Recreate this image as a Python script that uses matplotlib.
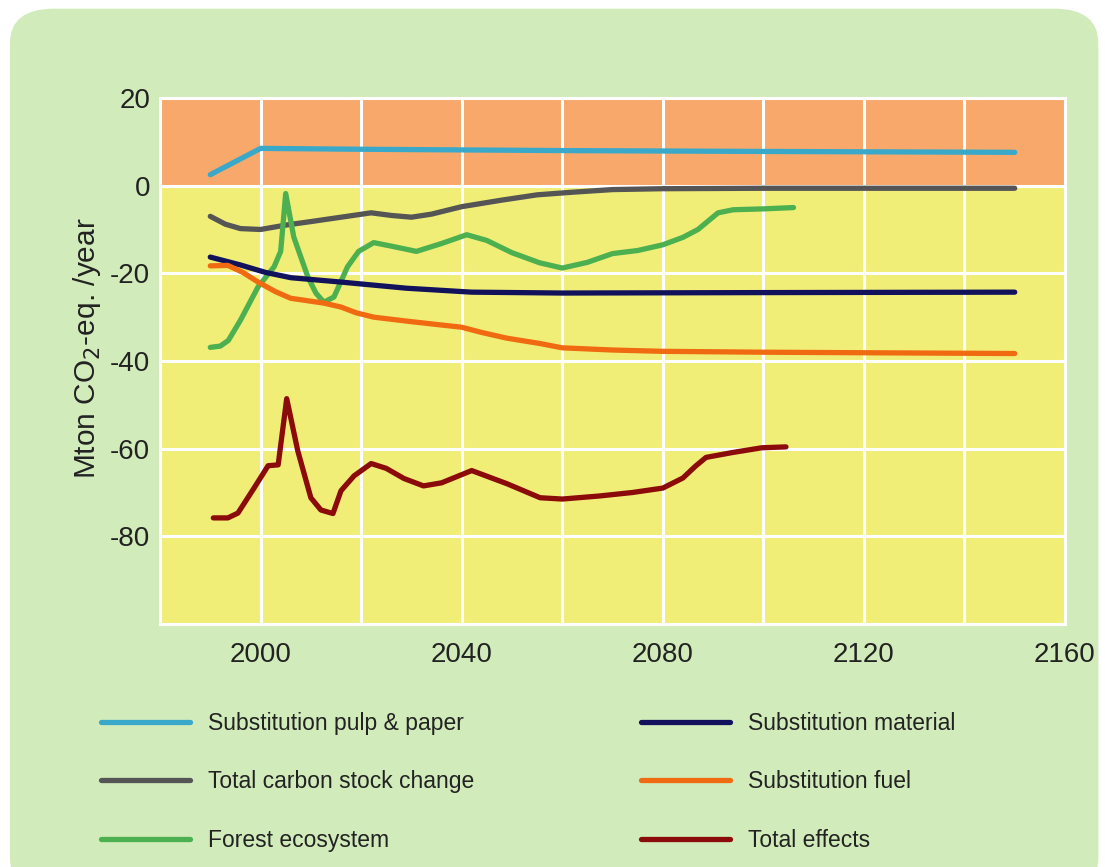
import matplotlib.pyplot as plt
from matplotlib.patches import FancyBboxPatch

plt.rcParams['font.family'] = ['Liberation Sans', 'DejaVu Sans']
plt.rcParams['axes.unicode_minus'] = False

# Daten
years_pulp = [1990, 2000, 2020, 2060, 2100, 2150]
pulp = [2.5, 8.5, 8.3, 8.0, 7.8, 7.6]

years_stock = [1990, 1993, 1996, 2000, 2005, 2010, 2016, 2022, 2026, 2030, 2034,
               2040, 2048, 2055, 2062, 2070, 2080, 2100, 2150]
stock = [-7.0, -8.8, -9.8, -10.0, -9.0, -8.2, -7.2, -6.2, -6.8, -7.2, -6.5,
         -4.8, -3.3, -2.1, -1.5, -0.9, -0.7, -0.6, -0.6]

years_forest = [1990, 1992, 1993.6, 1996, 1999.5, 2002.7, 2004, 2005, 2006.6, 2009.4,
                2011, 2012.6, 2014.6, 2017.3, 2019.5, 2022.5, 2026, 2031, 2036, 2041,
                2045, 2050, 2055.5, 2060, 2065, 2070, 2075, 2080, 2084, 2087,
                2091, 2094, 2100, 2106]
forest = [-36.9, -36.6, -35.3, -30.7, -23.1, -18.5, -15.0, -1.8, -11.7, -20.8,
          -24.5, -26.6, -25.4, -18.5, -15.0, -13.0, -13.8, -15.0, -13.2, -11.2,
          -12.5, -15.3, -17.6, -18.8, -17.5, -15.5, -14.8, -13.5, -11.8, -10.0,
          -6.2, -5.5, -5.3, -5.0]

years_material = [1990, 1996, 2001, 2006, 2016, 2029, 2042, 2060, 2100, 2150]
material = [-16.3, -18.1, -19.8, -21.0, -22.0, -23.4, -24.3, -24.5, -24.4, -24.3]

years_fuel = [1990, 1993.5, 1996.5, 1999.5, 2003, 2006, 2012.6, 2016, 2019, 2022.5,
              2029, 2036, 2040, 2044, 2049, 2055.5, 2060, 2070, 2080, 2100, 2150]
fuel = [-18.3, -18.2, -19.8, -22.0, -24.2, -25.7, -26.8, -27.7, -29.0, -30.0,
        -30.9, -31.8, -32.3, -33.5, -34.8, -36.0, -37.0, -37.5, -37.8, -38.0, -38.3]

years_total = [1990.6, 1993.5, 1995.5, 1998.7, 2001.5, 2003.5, 2005.2, 2007.4, 2010,
               2012, 2014.4, 2016, 2018.6, 2022, 2025, 2028.5, 2032.4, 2036, 2042,
               2049, 2055.6, 2060, 2067.4, 2074, 2080, 2084, 2086.5, 2088.6, 2093.8,
               2099.7, 2104.5]
total = [-75.8, -75.8, -74.7, -69.0, -63.9, -63.7, -48.6, -60.5, -71.2,
         -74.0, -74.8, -69.6, -66.2, -63.4, -64.5, -66.8, -68.5, -67.8, -65.0,
         -68.0, -71.2, -71.5, -70.8, -70.0, -69.0, -66.7, -64.0, -62.0, -60.9,
         -59.8, -59.6]

x_ticks = [2000, 2040, 2080, 2120, 2160]
y_ticks = [20, 0, -20, -40, -60, -80]

# Figur
fig = plt.figure(figsize=(11.05, 8.67), dpi=100)
fig.patch.set_facecolor('white')
bg = FancyBboxPatch((0.039, 0.0), 0.925, 0.96,
                    boxstyle='round,pad=0.03,rounding_size=0.04',
                    transform=fig.transFigure, facecolor='#D2EBBB',
                    edgecolor='none', zorder=-1)
fig.add_artist(bg)

ax = fig.add_axes([0.1448, 0.2803, 0.819, 0.6067])
ax.set_zorder(1)
ax.set_facecolor('#F1EE78')
ax.axhspan(0, 20, color='#F8A86A', zorder=0)
ax.axhspan(-100, 0, color='#F1EE78', zorder=0)

kw = dict(lw=3.8, solid_capstyle='round', solid_joinstyle='round')
ax.plot(years_pulp, pulp, color='#3AA8C8', label='Substitution pulp & paper', **kw)
ax.plot(years_stock, stock, color='#555555', label='Total carbon stock change', **kw)
ax.plot(years_forest, forest, color='#4CB050', label='Forest ecosystem', **kw)
ax.plot(years_material, material, color='#12125C', label='Substitution material', **kw)
ax.plot(years_fuel, fuel, color='#F06A12', label='Substitution fuel', **kw)
ax.plot(years_total, total, color='#8B0A0A', label='Total effects', **kw)

ax.set_xlim(1980, 2160)
ax.set_ylim(-100, 20)
ax.set_xticks(x_ticks)
ax.set_yticks(y_ticks)
ax.set_xticks(range(1980, 2161, 20), minor=True)
ax.set_yticks(range(-100, 21, 20), minor=True)
ax.set_axisbelow(True)
ax.grid(which='both', color='white', lw=2.2)
ax.tick_params(which='both', length=0, labelsize=20, colors='#222222')
ax.tick_params(axis='x', pad=13)
ax.tick_params(axis='y', pad=7)
for s in ax.spines.values():
    s.set_color('white')
    s.set_linewidth(2.2)
ax.set_ylabel('Mton CO$_2$-eq. /year', fontsize=21.5, color='#222222', labelpad=5)
ax.yaxis.label.set_y(0.525)

leg = ax.legend(loc='upper left', bbox_to_anchor=(-0.088, -0.128), ncol=2,
                frameon=False, fontsize=16.5, handlelength=3.9, handletextpad=0.75,
                columnspacing=7.3, labelspacing=1.55)
for t in leg.get_texts():
    t.set_color('#222222')

fig.savefig('out.png', dpi=100, facecolor=fig.get_facecolor())
